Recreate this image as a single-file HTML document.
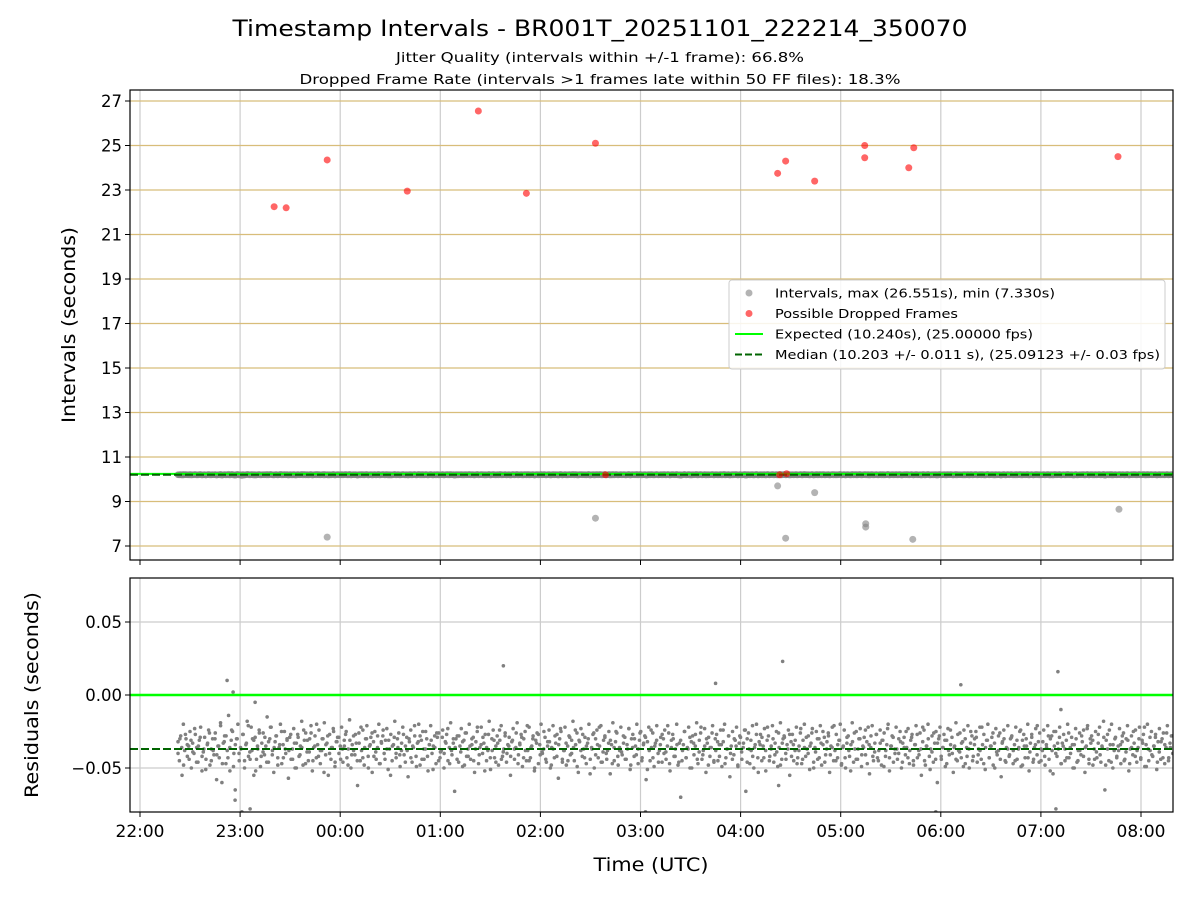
<!DOCTYPE html>
<html><head><meta charset="utf-8">
<style>
html,body{margin:0;padding:0;background:#fff;}
svg text{font-family:"DejaVu Sans","Liberation Sans",sans-serif;}
</style></head>
<body>
<svg id="chart" width="1200" height="900" xmlns="http://www.w3.org/2000/svg">
<rect width="1200" height="900" fill="#fff"/>
<text x="600" y="36" font-size="22" text-anchor="middle" textLength="735" lengthAdjust="spacingAndGlyphs">Timestamp Intervals - BR001T_20251101_222214_350070</text>
<text x="600" y="62" font-size="13" text-anchor="middle" textLength="408" lengthAdjust="spacingAndGlyphs">Jitter Quality (intervals within +/-1 frame): 66.8%</text>
<text x="600" y="84" font-size="13" text-anchor="middle" textLength="601" lengthAdjust="spacingAndGlyphs">Dropped Frame Rate (intervals &gt;1 frames late within 50 FF files): 18.3%</text>
<g id="topg"></g>
<g id="botg"></g>
</svg>
<script>
// ---- data ----
const xTickLabels = ["22:00","23:00","00:00","01:00","02:00","03:00","04:00","05:00","06:00","07:00","08:00"];
const topTicks = [7,9,11,13,15,17,19,21,23,25,27];
const botTicks = [0.05,0.00,-0.05];
const botTickLabels = ["0.05","0.00","\u22120.05"];
const expected = 10.240;
const median = 10.203;
// residuals in ms (interval - expected), evenly over the recording (set A)
const residualsMs = [
-32,-45,-28,-55,-20,-38,-30,-42,-35,-25,-50,-33,-40,-27,-36,-46,-31,-22,-52,-39,-29,-44,-34,-24,-48,-37,-30,-41,-26,-58,
-35,-43,-21,-60,-33,-28,-47,-38,-14,-52,-31,-25,-40,-65,-30,-20,-45,-36,-80,-27,-50,-34,-18,-42,-39,-22,-30,-55,-29,-44,
-37,-24,-49,-33,-26,-41,-35,-15,-46,-30,-22,-38,-53,-32,-28,-43,-36,-20,-47,-34,-25,-40,-31,-57,-29,-44,-37,-23,-50,-33,
-27,-42,-35,-18,-48,-31,-26,-39,-45,-30,-21,-52,-36,-28,-43,-34,-24,-47,-38,-30,-19,-41,-33,-55,-27,-44,-36,-25,-49,-32,
-29,-40,-35,-22,-46,-31,-27,-43,-37,-17,-50,-34,-28,-41,-33,-62,-26,-45,-38,-24,-48,-30,-21,-42,-35,-29,-53,-32,-25,-44,
-36,-20,-47,-33,-28,-40,-31,-23,-51,-37,-27,-45,-34,-18,-43,-30,-26,-49,-38,-22,-41,-35,-29,-56,-32,-24,-46,-36,-28,-42,
-33,-20,-48,-31,-25,-44,-37,-30,-52,-34,-21,-40,-35,-28,-47,-29,-26,-43,-38,-24,-50,-32,-27,-45,-36,-19,-41,-33,-66,-30,
-28,-46,-35,-23,-49,-31,-26,-42,-37,-20,-44,-34,-29,-53,-32,-25,-47,-36,-22,-40,-33,-27,-45,-38,-18,-51,-30,-24,-43,-35,
-28,-48,-31,-21,-42,-37,-26,-46,-34,-29,-55,-32,-23,-44,-36,-19,-41,-33,-27,-49,-30,-25,-45,-38,-22,-43,-35,-28,-52,-31,
-26,-47,-34,-20,-40,-37,-29,-46,-32,-24,-50,-36,-21,-43,-33,-27,-57,-30,-25,-44,-38,-22,-48,-35,-28,-41,-31,-18,-45,-34,
-26,-53,-32,-23,-42,-37,-29,-47,-33,-20,-44,-36,-27,-50,-30,-24,-43,-35,-21,-46,-31,-28,-40,-38,-25,-54,-34,-19,-45,-32,
-26,-48,-36,-22,-41,-33,-29,-44,-37,-23,-51,-30,-27,-42,-35,-20,-47,-31,-25,-43,-34,-28,-58,-32,-22,-45,-36,-26,-49,-33,
-21,-40,-38,-29,-46,-30,-24,-44,-35,-26,-52,-31,-27,-42,-37,-20,-48,-33,-70,-45,-34,-25,-43,-36,-22,-50,-32,-28,-41,-35,
-19,-47,-31,-26,-44,-38,-23,-53,-33,-29,-42,-36,-21,-46,-30,-27,-45,-34,-24,-49,-32,-20,-43,-37,-28,-56,-35,-25,-41,-31,
-22,-48,-33,-29,-44,-36,-24,-66,-30,-26,-47,-38,-21,-50,-34,-20,-43,-32,-27,-45,-35,-23,-52,-31,-28,-42,-37,-21,-46,-33,
-25,-49,-36,-19,-44,-30,-29,-40,-34,-24,-55,-32,-27,-45,-38,-22,-43,-35,-26,-47,-31,-20,-42,-37,-28,-51,-33,-23,-46,-36,
-25,-44,-30,-21,-48,-34,-29,-41,-32,-26,-53,-35,-22,-45,-38,-27,-43,-31,-20,-47,-36,-24,-50,-33,-28,-42,-34,-19,-46,-37,
-25,-44,-30,-23,-49,-35,-29,-41,-32,-22,-54,-36,-21,-45,-33,-27,-43,-38,-24,-48,-31,-26,-42,-34,-20,-52,-35,-28,-46,-37,
-22,-44,-30,-25,-50,-33,-29,-41,-36,-23,-47,-31,-27,-45,-34,-21,-43,-38,-26,-55,-32,-24,-48,-35,-20,-42,-37,-28,-46,-33,
-25,-60,-30,-22,-44,-36,-27,-49,-31,-23,-41,-34,-29,-53,-35,-19,-45,-38,-26,-43,-32,-24,-47,-36,-21,-50,-33,-28,-42,-30,
-25,-46,-37,-22,-44,-34,-27,-51,-31,-20,-43,-35,-29,-48,-33,-23,-41,-38,-26,-56,-32,-24,-45,-36,-21,-42,-30,-28,-47,-34,
-22,-44,-37,-25,-49,-31,-27,-43,-35,-20,-52,-33,-29,-46,-36,-23,-41,-32,-26,-45,-38,-24,-48,-34,-21,-44,-30,-28,-54,-35,
-25,-42,-37,-22,-47,-33,-27,-45,-31,-20,-43,-36,-29,-50,-34,-23,-46,-38,-26,-41,-32,-24,-53,-35,-21,-44,-30,-28,-48,-37,
-25,-43,-33,-22,-46,-36,-18,-65,-31,-27,-45,-34,-20,-50,-38,-29,-42,-35,-23,-47,-32,-26,-44,-30,-21,-52,-37,-28,-41,-33,
-24,-46,-36,-22,-43,-31,-27,-49,-34,-20,-45,-38,-25,-42,-35,-29,-51,-32,-23,-44,-30,-26,-47,-36,-21,-43,-33,-28,-40,-37
];
// set B: interleaved additional intervals
const residualsMsB = [
-40,-30,-36,-48,-27,-34,-44,-31,-39,-23,-46,-35,-29,-42,-37,-51,-33,-26,-45,-38,-30,-41,-35,-19,-47,-32,-28,-43,-36,-24,
-49,-34,-30,-40,-37,-27,-45,-33,-21,-44,-38,-31,-52,-35,-26,-42,-39,-29,-46,-32,-22,-41,-36,-28,-48,-34,-25,-43,-37,-30,
-38,-27,-44,-33,-50,-29,-41,-36,-24,-47,-31,-39,-26,-45,-35,-20,-42,-38,-30,-53,-34,-28,-40,-36,-23,-46,-32,-29,-44,-37,
-35,-25,-48,-31,-41,-38,-27,-45,-33,-22,-43,-36,-30,-50,-34,-26,-42,-39,-28,-47,-32,-24,-44,-37,-31,-55,-35,-29,-40,-36,
-41,-33,-27,-46,-38,-30,-43,-35,-21,-49,-32,-28,-44,-37,-25,-42,-34,-31,-51,-36,-26,-45,-39,-29,-40,-33,-23,-47,-38,-30,
-36,-44,-28,-39,-32,-48,-26,-42,-35,-30,-45,-37,-22,-41,-34,-29,-52,-36,-27,-43,-38,-31,-46,-33,-24,-44,-39,-28,-40,-35,
-42,-31,-37,-26,-47,-34,-29,-43,-38,-21,-45,-36,-30,-50,-33,-27,-41,-39,-25,-44,-35,-32,-48,-37,-28,-42,-34,-23,-46,-38,
-33,-45,-29,-40,-36,-24,-49,-31,-38,-27,-43,-35,-30,-54,-37,-26,-41,-34,-22,-46,-39,-29,-44,-33,-31,-47,-36,-25,-42,-38,
-39,-28,-44,-34,-23,-48,-36,-30,-41,-37,-26,-45,-33,-29,-51,-38,-24,-43,-35,-31,-46,-34,-27,-40,-39,-21,-47,-36,-30,-42,
-34,-46,-31,-38,-25,-43,-37,-29,-50,-33,-27,-44,-39,-22,-41,-35,-30,-48,-36,-26,-45,-38,-32,-42,-34,-24,-47,-37,-28,-40,
-44,-30,-35,-49,-28,-39,-33,-24,-46,-37,-31,-42,-36,-27,-53,-34,-29,-43,-38,-22,-45,-35,-30,-41,-39,-26,-48,-33,-28,-44,
-37,-27,-42,-34,-31,-47,-38,-23,-44,-36,-29,-40,-35,-26,-50,-39,-30,-43,-33,-25,-46,-37,-28,-41,-36,-21,-45,-34,-31,-48,
-35,-43,-29,-38,-52,-32,-26,-44,-37,-30,-41,-36,-24,-47,-34,-28,-42,-39,-27,-45,-33,-31,-49,-38,-23,-43,-35,-29,-40,-37,
-40,-32,-46,-36,-25,-43,-38,-29,-48,-34,-27,-41,-37,-22,-45,-35,-30,-51,-39,-26,-44,-33,-28,-42,-36,-31,-47,-38,-24,-40,
-36,-44,-27,-39,-33,-49,-30,-42,-37,-25,-45,-34,-29,-41,-38,-22,-47,-36,-31,-43,-35,-26,-50,-39,-28,-44,-33,-30,-46,-37,
-41,-29,-38,-45,-31,-36,-24,-48,-35,-30,-43,-39,-27,-44,-34,-21,-46,-37,-32,-42,-36,-28,-52,-38,-25,-40,-33,-29,-47,-35,
-37,-43,-26,-40,-34,-50,-30,-45,-38,-28,-42,-36,-23,-47,-33,-31,-44,-39,-27,-41,-35,-29,-48,-37,-24,-46,-34,-30,-43,-38,
-34,-28,-45,-39,-31,-47,-36,-25,-42,-38,-30,-44,-33,-22,-49,-37,-29,-41,-35,-27,-46,-39,-32,-43,-34,-26,-45,-36,-28,-40
];
// isolated residual outliers
const outHours = [0.87,0.93,1.15,3.63,5.75,6.42,6.38,8.2,9.17,9.2,0.95,1.1,5.05,7.95,9.15];
const outMs = [10,2,-5,20,8,23,-62,7,16,-10,-72,-78,-80,-80,-78];
// dropped-frame points
const redHours = [1.34,1.46,1.87,2.67,3.38,3.86,4.55,6.37,6.45,6.74,7.24,7.24,7.68,7.73,9.77,4.65,6.39,6.46];
const redValues = [22.25,22.2,24.35,22.95,26.55,22.85,25.1,23.75,24.3,23.4,25.0,24.45,24.0,24.9,24.5,10.2,10.2,10.25];
// short-interval outliers
const lowHours = [1.87,4.55,6.37,6.45,6.74,7.25,7.25,7.72,9.78];
const lowValues = [7.4,8.25,9.7,7.35,9.4,7.85,8.0,7.3,8.65];
const startHour = 0.38, endHour = 10.33;

// ---- axes ----
const X0=130,X1=1173;
const xs = h => 140 + h*100.1;
const T0=90,T1=560;
const yTop = v => 546 - (v-7)*22.25;
const B0=578,B1=812;
const yBot = v => 695 - v*1460;
const NS="http://www.w3.org/2000/svg";
function mk(parent,tag,attrs,text){const e=document.createElementNS(NS,tag);for(const k in attrs)e.setAttribute(k,attrs[k]);if(text!==undefined)e.textContent=text;parent.appendChild(e);return e;}
const topG=document.getElementById('topg'), botG=document.getElementById('botg');

const defs=mk(document.getElementById('chart'),'defs',{});
const c1=mk(defs,'clipPath',{id:'ct'});mk(c1,'rect',{x:X0,y:T0,width:X1-X0,height:T1-T0});
const c2=mk(defs,'clipPath',{id:'cb'});mk(c2,'rect',{x:X0,y:B0,width:X1-X0,height:B1-B0});

for(let i=0;i<xTickLabels.length;i++){
  const x=xs(i);
  const g1=mk(topG,'line',{x1:x,x2:x,y1:T0,y2:T1,stroke:'#cccccc','stroke-width':1.2});
  
  
  const g2=mk(botG,'line',{x1:x,x2:x,y1:B0,y2:B1,stroke:'#cccccc','stroke-width':1.2});
  
  
}
topTicks.forEach(v=>{
  const y=yTop(v);
  const g=mk(topG,'line',{x1:X0,x2:X1,y1:y,y2:y,stroke:'#d8bd7a','stroke-width':1.2});
  
  
  mk(topG,'line',{x1:X0-5,x2:X0,y1:y,y2:y,stroke:'#000'});
  const t=mk(topG,'text',{x:X0-8,y:y+6,'font-size':16.5,'text-anchor':'end'},String(v));
  
  
});
botTicks.forEach((v,i)=>{
  const y=yBot(v);
  const g=mk(botG,'line',{x1:X0,x2:X1,y1:y,y2:y,stroke:'#cccccc','stroke-width':1.2});
  
  
  mk(botG,'line',{x1:X0-5,x2:X0,y1:y,y2:y,stroke:'#000'});
  const t=mk(botG,'text',{x:X0-8,y:y+6,'font-size':16.5,'text-anchor':'end'},botTickLabels[i]);
  
  
});

const tg=mk(topG,'g',{'clip-path':'url(#ct)'});
const hOf=(i,n)=>startHour+(endHour-startHour)*i/(n-1);
[residualsMs,residualsMsB].forEach(arr=>{
  arr.forEach((r,i)=>{
    const c=mk(tg,'circle',{cx:xs(hOf(i,arr.length)),cy:yTop(expected+r/1000),r:3.3,fill:'#808080','fill-opacity':0.6});
    
    
  });
});
lowHours.forEach((h,i)=>{
  const c=mk(tg,'circle',{cx:xs(h),cy:yTop(lowValues[i]),r:3.5,fill:'#808080','fill-opacity':0.6});
  
  
});
let l=mk(tg,'line',{x1:X0,x2:X1,y1:yTop(expected),y2:yTop(expected),stroke:'#00ff00','stroke-width':2});


l=mk(tg,'line',{x1:X0,x2:X1,y1:yTop(median),y2:yTop(median),stroke:'#006400','stroke-width':2,'stroke-dasharray':'8,3'});


redHours.forEach((h,i)=>{
  const c=mk(tg,'circle',{cx:xs(h),cy:yTop(redValues[i]),r:3.5,fill:'#ff0000','fill-opacity':0.6});
  
  
});

const bg=mk(botG,'g',{'clip-path':'url(#cb)'});
[residualsMs,residualsMsB].forEach(arr=>{
  arr.forEach((r,i)=>{
    const c=mk(bg,'circle',{cx:xs(hOf(i,arr.length)),cy:yBot(r/1000),r:1.8,fill:'#808080'});
    
    
  });
});
outHours.forEach((h,i)=>{
  const c=mk(bg,'circle',{cx:xs(h),cy:yBot(outMs[i]/1000),r:1.8,fill:'#808080'});
  
  
});
l=mk(bg,'line',{x1:X0,x2:X1,y1:yBot(0),y2:yBot(0),stroke:'#00ff00','stroke-width':2.5});


l=mk(bg,'line',{x1:X0,x2:X1,y1:yBot(median-expected),y2:yBot(median-expected),stroke:'#006400','stroke-width':2,'stroke-dasharray':'8,3'});



let f=mk(topG,'rect',{x:X0,y:T0,width:X1-X0,height:T1-T0,fill:'none',stroke:'#000','stroke-width':1.2});


f=mk(botG,'rect',{x:X0,y:B0,width:X1-X0,height:B1-B0,fill:'none',stroke:'#000','stroke-width':1.2});


xTickLabels.forEach((s,i)=>{
  const x=xs(i);
  mk(topG,'line',{x1:x,x2:x,y1:T1,y2:T1+5,stroke:'#000'});
  mk(botG,'line',{x1:x,x2:x,y1:B1,y2:B1+5,stroke:'#000'});
  const t=mk(botG,'text',{x:x,y:B1+25,'font-size':17,'text-anchor':'middle'},s);
  
  
});
let t=mk(botG,'text',{x:651,y:871,'font-size':19,'text-anchor':'middle',textLength:115,lengthAdjust:'spacingAndGlyphs'},'Time (UTC)');


t=mk(topG,'text',{x:75,y:325,'font-size':19,'text-anchor':'middle',textLength:196,lengthAdjust:'spacingAndGlyphs',transform:'rotate(-90 75 325)'},'Intervals (seconds)');


t=mk(botG,'text',{x:38,y:695,'font-size':19,'text-anchor':'middle',textLength:206,lengthAdjust:'spacingAndGlyphs',transform:'rotate(-90 38 695)'},'Residuals (seconds)');



const lg=mk(topG,'g',{});


mk(lg,'rect',{x:729,y:280,width:436,height:89,rx:3,fill:'#fff','fill-opacity':0.85,stroke:'#cccccc'});
const entries=[['Intervals, max (26.551s), min (7.330s)','gray',280],['Possible Dropped Frames','red',183],['Expected (10.240s), (25.00000 fps)','green',258],['Median (10.203 +/- 0.011 s), (25.09123 +/- 0.03 fps)','dash',385]];
entries.forEach((e,i)=>{
  const y=293+i*20.5;
  const g=mk(lg,'g',{});
  
  
  if(e[1]==='gray')mk(g,'circle',{cx:749,cy:y,r:3.5,fill:'#808080','fill-opacity':0.6});
  if(e[1]==='red')mk(g,'circle',{cx:749,cy:y,r:3.5,fill:'#ff0000','fill-opacity':0.6});
  if(e[1]==='green')mk(g,'line',{x1:735,x2:763,y1:y,y2:y,stroke:'#00ff00','stroke-width':2});
  if(e[1]==='dash')mk(g,'line',{x1:735,x2:763,y1:y,y2:y,stroke:'#006400','stroke-width':2,'stroke-dasharray':'7,3'});
  mk(g,'text',{x:775,y:y+4.5,'font-size':12.5,textLength:e[2],lengthAdjust:'spacingAndGlyphs'},e[0]);
});
</script>
</body></html>
